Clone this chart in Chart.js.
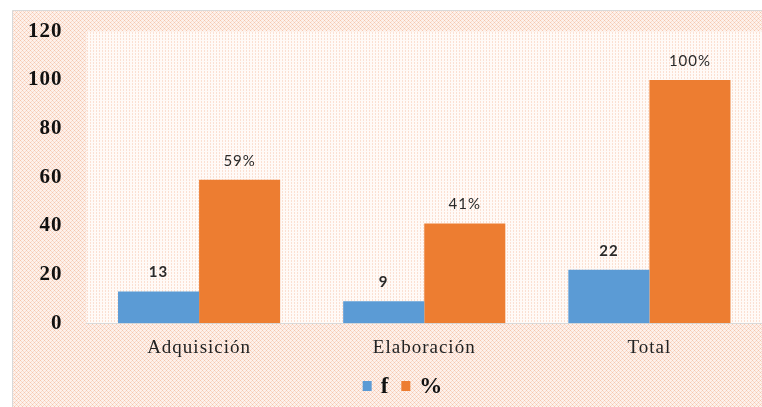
<!DOCTYPE html>
<html>
<head>
<meta charset="utf-8">
<script src="https://cdn.jsdelivr.net/npm/chart.js@4"></script>
<style>
  html, body { margin: 0; padding: 0; background: #fff; }
  canvas { display: block; }
</style>
</head>
<body>
<canvas id="chart" width="762" height="407"></canvas>
<script>
const categories = ["Adquisición", "Elaboración", "Total"];
const freqValues = [13, 9, 22];
const pctValues = [59, 41, 100];
const yTicks = [0, 20, 40, 60, 80, 100, 120];

const serif = "'Liberation Serif', 'Times New Roman', serif";

// hatch tile for the outer background
function makeOuterPattern(ctx) {
  const c = document.createElement("canvas");
  c.width = 4; c.height = 4;
  const g = c.getContext("2d");
  g.fillStyle = "#fdf1eb";
  g.fillRect(0, 0, 4, 4);
  g.fillStyle = "#f6c7ae";
  g.fillRect(0, 0, 1, 1);
  g.fillRect(2, 2, 1, 1);
  g.fillStyle = "#f9dacb";
  g.fillRect(1, 1, 1, 1);
  g.fillRect(3, 3, 1, 1);
  g.fillRect(1, 3, 1, 1);
  g.fillRect(3, 1, 1, 1);
  return ctx.createPattern(c, "repeat");
}

// finer dots for the plot area
function makeInnerPattern(ctx) {
  const c = document.createElement("canvas");
  c.width = 3; c.height = 3;
  const g = c.getContext("2d");
  g.fillStyle = "#fffaf7";
  g.fillRect(0, 0, 3, 3);
  g.fillStyle = "#fbe0d2";
  g.fillRect(0, 0, 1, 1);
  g.fillRect(0, 2, 1, 1);
  return ctx.createPattern(c, "repeat");
}

const spacingPlugin = {
  id: "spacing",
  beforeLayout(chart) { chart.ctx.letterSpacing = "1px"; },
  beforeDraw(chart) { chart.ctx.letterSpacing = "1px"; },
};

const backgroundPlugin = {
  id: "bg",
  beforeDraw(chart) {
    const { ctx, chartArea } = chart;
    ctx.save();
    ctx.fillStyle = "#ffffff";
    ctx.fillRect(0, 0, chart.width, chart.height);
    ctx.fillStyle = makeOuterPattern(ctx);
    ctx.fillRect(12, 10, chart.width - 12, chart.height - 10);
    ctx.strokeStyle = "#d9d9d9";
    ctx.lineWidth = 1;
    ctx.beginPath();
    ctx.moveTo(12.5, chart.height);
    ctx.lineTo(12.5, 10.5);
    ctx.lineTo(chart.width, 10.5);
    ctx.stroke();
    ctx.fillStyle = makeInnerPattern(ctx);
    ctx.fillRect(chartArea.left, chartArea.top, chartArea.right - chartArea.left, chartArea.bottom - chartArea.top);
    ctx.restore();
  }
};

const labelPlugin = {
  id: "labels",
  afterDatasetsDraw(chart) {
    const { ctx } = chart;
    ctx.save();
    ctx.fillStyle = "#2a2a2a";
    ctx.textAlign = "center";
    ctx.textBaseline = "middle";
    chart.data.datasets.forEach((ds, i) => {
      chart.getDatasetMeta(i).data.forEach((bar, j) => {
        const v = ds.data[j];
        const txt = i === 1 ? v + "%" : String(v);
        ctx.font = (i === 1 ? "" : "bold ") + "15px Lato, sans-serif";
        ctx.fillText(txt, bar.x, bar.y - 19);
      });
    });
    ctx.restore();
  }
};

// legend drawn below the axis, items taken from the datasets
const legendPlugin = {
  id: "legendRow",
  afterDraw(chart) {
    const { ctx } = chart;
    const centerX = 403, centerY = 386;
    const box = 9, gapText = 9, gapItem = 12;
    ctx.save();
    ctx.font = "bold 23px " + serif;
    ctx.textBaseline = "middle";
    ctx.textAlign = "left";
    const items = chart.data.datasets.map((ds) => ({
      text: ds.label, color: ds.backgroundColor, w: ctx.measureText(ds.label).width,
    }));
    const total = items.reduce((s, it) => s + box + gapText + it.w, 0) + gapItem * (items.length - 1);
    let x = centerX - total / 2;
    items.forEach((it) => {
      ctx.fillStyle = it.color;
      ctx.fillRect(x, centerY - 5, box, 10);
      x += box + gapText;
      ctx.fillStyle = "#111111";
      ctx.fillText(it.text, x, centerY + 1);
      x += it.w + gapItem;
    });
    ctx.restore();
  }
};

new Chart(document.getElementById("chart"), {
  type: "bar",
  data: {
    labels: categories,
    datasets: [
      { label: "f", data: freqValues, backgroundColor: "#5b9bd5" },
      { label: "%", data: pctValues, backgroundColor: "#ed7d31" },
    ],
  },
  options: {
    responsive: false,
    animation: false,
    layout: { padding: { left: 4, right: 0, top: 10, bottom: 35 } },
    datasets: { bar: { categoryPercentage: 0.72, barPercentage: 1.0 } },
    scales: {
      x: {
        grid: { display: false, drawTicks: false },
        border: { display: true, color: "#d9d9d9" },
        ticks: {
          color: "#222222",
          padding: 13,
          font: { family: serif, size: 19 },
        },
      },
      y: {
        min: 0,
        max: 120,
        afterBuildTicks(axis) {
          axis.ticks = yTicks.map((v) => ({ value: v }));
        },
        grid: { display: false, drawTicks: false },
        border: { display: false },
        ticks: {
          color: "#111111",
          padding: 24,
          font: { family: serif, size: 21, weight: "bold", lineHeight: 0.7 },
        },
      },
    },
    plugins: {
      tooltip: { enabled: false },
      legend: { display: false },
    },
  },
  plugins: [spacingPlugin, backgroundPlugin, labelPlugin, legendPlugin],
});
</script>
</body>
</html>
